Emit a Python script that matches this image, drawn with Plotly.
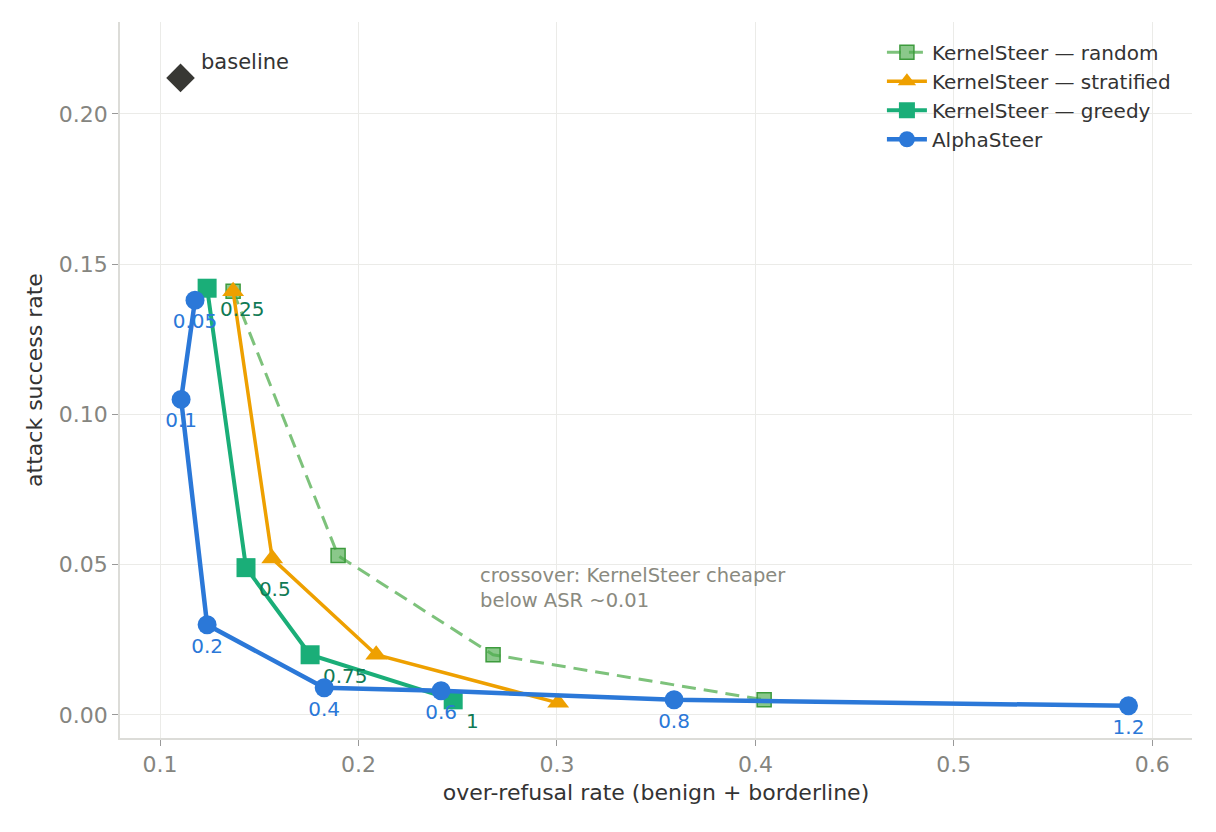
import plotly.graph_objects as go

# AlphaSteer sweep (labels = steering strength)
alpha_x = [0.1176, 0.1106, 0.1237, 0.1827, 0.2416, 0.359, 0.588]
alpha_y = [0.138, 0.105, 0.030, 0.009, 0.008, 0.005, 0.003]
alpha_labels = ["0.05", "0.1", "0.2", "0.4", "0.6", "0.8", "1.2"]

# KernelSteer - greedy
greedy_x = [0.1237, 0.1433, 0.1756, 0.2477]
greedy_y = [0.142, 0.049, 0.020, 0.005]
greedy_labels = ["0.25", "0.5", "0.75", "1"]

# KernelSteer - stratified
strat_x = [0.1368, 0.1565, 0.2089, 0.3006]
strat_y = [0.141, 0.052, 0.020, 0.004]

# KernelSteer - random
rand_x = [0.1368, 0.1897, 0.2678, 0.4044]
rand_y = [0.141, 0.053, 0.020, 0.005]

baseline_x = [0.1103]
baseline_y = [0.212]

FONT = "DejaVu Sans"
BLUE = "#2b78d8"
GREEN = "#1aae78"
ORANGE = "#eea000"
LIGHT_GREEN = "#7dc27b"

fig = go.Figure()

# Random (dashed, drawn first)
fig.add_trace(go.Scatter(
    x=rand_x, y=rand_y, mode="lines+markers", name="KernelSteer \u2014 random",
    line=dict(color=LIGHT_GREEN, width=3, dash="14px,8px"),
    marker=dict(symbol="square", size=14, color="rgba(76,170,76,0.65)",
                line=dict(color="#3d9b3d", width=1.5)),
))

# Stratified
fig.add_trace(go.Scatter(
    x=strat_x, y=strat_y, mode="lines+markers", name="KernelSteer \u2014 stratified",
    line=dict(color=ORANGE, width=3.5),
    marker=dict(symbol="triangle-up", size=19, color=ORANGE),
))

# Greedy
fig.add_trace(go.Scatter(
    x=greedy_x, y=greedy_y, mode="lines+markers+text", name="KernelSteer \u2014 greedy",
    line=dict(color=GREEN, width=4),
    marker=dict(symbol="square", size=19, color=GREEN),
    text=greedy_labels, textposition="bottom right",
    textfont=dict(family=FONT, size=20, color="#0f7a55"),
))

# AlphaSteer
fig.add_trace(go.Scatter(
    x=alpha_x, y=alpha_y, mode="lines+markers+text", name="AlphaSteer",
    line=dict(color=BLUE, width=4.5),
    marker=dict(symbol="circle", size=19, color=BLUE),
    text=alpha_labels, textposition="bottom center",
    textfont=dict(family=FONT, size=20, color=BLUE),
))

# Baseline point
fig.add_trace(go.Scatter(
    x=baseline_x, y=baseline_y, mode="markers", showlegend=False,
    marker=dict(symbol="diamond", size=22, color="#383834"),
))
fig.add_annotation(
    x=baseline_x[0], y=baseline_y[0], xref="x", yref="y",
    text="baseline", showarrow=False, xanchor="left", yanchor="middle",
    xshift=18, yshift=16,
    font=dict(family=FONT, size=21, color="#333333"),
)

fig.add_annotation(
    x=0.2600, y=0.0423, xref="x", yref="y",
    text="crossover: KernelSteer cheaper<br>below ASR ~0.01",
    showarrow=False, xanchor="left", yanchor="middle", align="left",
    font=dict(family=FONT, size=19.5, color="#8a8a80"),
)

axis_common = dict(
    showgrid=True, gridcolor="#ebebe8", gridwidth=1,
    showline=True, linecolor="#dcdcd8", linewidth=1.5,
    ticks="outside", ticklen=6, tickcolor="#999999",
    tickfont=dict(family=FONT, size=22, color="#85857f"),
    zeroline=False,
)

fig.update_xaxes(
    range=[0.0798, 0.620], tickvals=[0.1, 0.2, 0.3, 0.4, 0.5, 0.6],
    ticktext=["0.1", "0.2", "0.3", "0.4", "0.5", "0.6"],
    title=dict(text="over-refusal rate (benign + borderline)",
               font=dict(family=FONT, size=22, color="#333333"), standoff=8),
    **axis_common,
)
fig.update_yaxes(
    range=[-0.0077, 0.2306], tickvals=[0.0, 0.05, 0.10, 0.15, 0.20],
    ticktext=["0.00", "0.05", "0.10", "0.15", "0.20"],
    title=dict(text="attack success rate",
               font=dict(family=FONT, size=22, color="#333333"), standoff=10),
    **axis_common,
)

fig.update_layout(
    width=1200, height=816,
    paper_bgcolor="white", plot_bgcolor="white",
    margin=dict(l=112, r=16, t=14, b=86),
    font=dict(family=FONT, size=20, color="#333333"),
    legend=dict(
        x=0.985, y=0.985, xanchor="right", yanchor="top",
        bgcolor="rgba(255,255,255,0)",
        font=dict(family=FONT, size=20, color="#333333"),
        itemwidth=40,
    ),
)

fig.write_html("out.html")
